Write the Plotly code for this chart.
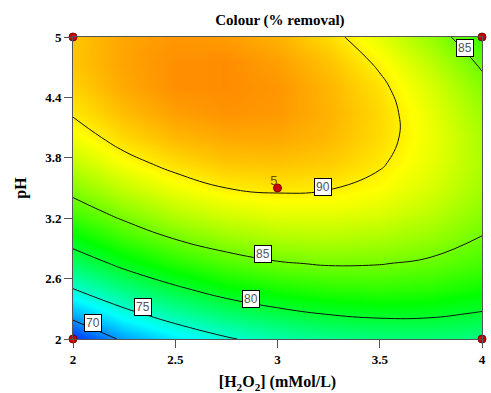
import plotly.graph_objects as go

# H2O2 (mMol/L) grid and pH grid
h2o2 = [2.0, 2.25, 2.5, 2.75, 3.0, 3.25, 3.5, 3.75, 4.0]
ph = [2.0, 2.25, 2.5, 2.75, 3.0, 3.25, 3.5, 3.75, 4.0, 4.25, 4.5, 4.75, 5.0]

# Colour removal (%), one row per pH value
removal = [
    [67.0, 70.5, 72.8, 74.7, 76.1, 77.1, 77.6, 77.8, 77.4],
    [71.0, 74.2, 76.4, 78.1, 79.3, 80.1, 80.5, 80.4, 79.8],
    [75.0, 77.6, 79.6, 81.2, 82.2, 82.8, 83.0, 82.7, 81.9],
    [78.3, 80.7, 82.5, 83.9, 84.8, 85.2, 85.1, 84.6, 83.6],
    [81.2, 83.4, 85.1, 86.3, 87.0, 87.2, 86.9, 86.2, 84.9],
    [83.7, 85.7, 87.3, 88.3, 88.8, 88.8, 88.4, 87.4, 85.9],
    [85.8, 87.7, 89.1, 90.0, 90.3, 90.1, 89.5, 88.3, 86.6],
    [87.6, 89.4, 90.6, 91.3, 91.4, 91.1, 90.2, 88.8, 86.9],
    [89.1, 90.7, 91.7, 92.2, 92.2, 91.7, 90.6, 89.0, 86.8],
    [90.2, 91.6, 92.5, 92.9, 92.7, 91.9, 90.7, 88.8, 86.4],
    [90.9, 92.2, 93.0, 93.1, 92.8, 91.8, 90.4, 88.3, 85.7],
    [91.3, 92.4, 93.0, 93.1, 92.5, 91.4, 89.7, 87.4, 84.6],
    [91.3, 92.3, 92.8, 92.6, 91.9, 90.6, 88.7, 86.2, 83.2],
]

contour_levels = [70, 75, 80, 85, 90]

# design points
pts_x = [2, 2, 4, 4, 3]
pts_y = [2, 5, 5, 2, 3.5]
center_label = "5"

# contour label positions (value, x, y)
label_vals = ["70", "75", "80", "85", "90", "85"]
label_x = [2.097, 2.343, 2.87, 2.928, 3.222, 3.918]
label_y = [2.157, 2.315, 2.394, 2.84, 3.51, 4.89]

colorscale = [
    [0.0, "rgb(0,0,255)"],
    [0.25, "rgb(0,255,255)"],
    [0.5, "rgb(0,255,0)"],
    [0.75, "rgb(255,255,0)"],
    [1.0, "rgb(255,0,0)"],
]

fig = go.Figure()
fig.add_trace(go.Heatmap(
    x=h2o2, y=ph, z=removal, zsmooth="best",
    colorscale=colorscale, zmin=65.5, zmax=97.5, showscale=False,
    hoverinfo="skip",
))
fig.add_trace(go.Contour(
    x=h2o2, y=ph, z=removal,
    contours=dict(start=contour_levels[0], end=contour_levels[-1], size=5, coloring="none"),
    line=dict(color="#111111", width=1, smoothing=1.3),
    showscale=False, hoverinfo="skip",
))
fig.add_trace(go.Scatter(
    x=pts_x, y=pts_y, mode="markers",
    marker=dict(symbol="circle", size=8, color="#cc0000", line=dict(color="#7a0000", width=1)),
    cliponaxis=False, hoverinfo="skip", showlegend=False,
))
fig.add_trace(go.Scatter(
    x=[pts_x[-1]], y=[pts_y[-1]], mode="text", text=[center_label],
    textposition="top left",
    textfont=dict(family="Liberation Sans", size=13, color="#7a4a00"),
    hoverinfo="skip", showlegend=False,
))

annotations = []
for t, lx, ly in zip(label_vals, label_x, label_y):
    annotations.append(dict(
        x=lx, y=ly, xref="x", yref="y", text=t, showarrow=False,
        bgcolor="white", bordercolor="black", borderwidth=1, borderpad=1,
        font=dict(family="Liberation Sans", size=12, color="#555555"),
    ))

axis_font = dict(family="Liberation Serif", size=13, color="black")
fig.update_layout(
    width=491, height=393,
    margin=dict(l=73, r=5, t=37, b=52),
    paper_bgcolor="white", plot_bgcolor="white",
    showlegend=False,
    title=dict(text="<b>Colour (% removal)</b>", x=0.57, xanchor="center", y=0.95, yanchor="middle",
               font=dict(family="Liberation Serif", size=15, color="black")),
    annotations=annotations,
    xaxis=dict(
        range=[2, 4], tickvals=[2, 2.5, 3, 3.5, 4], ticktext=["<b>2</b>", "<b>2.5</b>", "<b>3</b>", "<b>3.5</b>", "<b>4</b>"],
        ticks="outside", ticklen=8, tickcolor="#555555", showgrid=False, zeroline=False,
        showline=True, linecolor="#555555", linewidth=1, mirror=True,
        tickfont=axis_font,
        title=dict(text="<b>[H<sub>2</sub>O<sub>2</sub>] (mMol/L)</b>", standoff=10,
                   font=dict(family="Liberation Serif", size=16, color="black")),
    ),
    yaxis=dict(
        range=[2, 5], tickvals=[2, 2.6, 3.2, 3.8, 4.4, 5],
        ticktext=["<b>2</b>", "<b>2.6</b>", "<b>3.2</b>", "<b>3.8</b>", "<b>4.4</b>", "<b>5</b>"],
        ticks="outside", ticklen=8, tickcolor="#555555", showgrid=False, zeroline=False,
        showline=True, linecolor="#555555", linewidth=1, mirror=True,
        tickfont=axis_font,
        title=dict(text="<b>pH</b>", standoff=14,
                   font=dict(family="Liberation Serif", size=16, color="black")),
    ),
)

fig.write_html("out.html")
